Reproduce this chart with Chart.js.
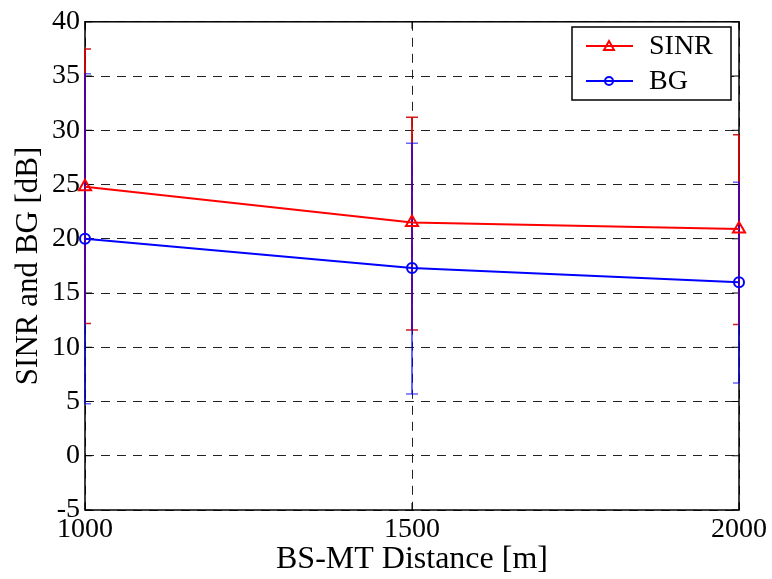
<!DOCTYPE html>
<html>
<head>
<meta charset="utf-8">
<script src="https://cdn.jsdelivr.net/npm/chart.js@4"></script>
<style>
  html, body { margin: 0; padding: 0; background: #fff; }
  #wrap { width: 772px; height: 579px; }
</style>
</head>
<body>
<div id="wrap"><canvas id="c" width="772" height="579"></canvas></div>
<script>
const distances = [1000, 1500, 2000];
const sinrMean = [24.8, 21.5, 20.9];
const sinrUpper = [37.5, 31.2, 29.6];
const sinrLower = [12.2, 11.6, 12.1];
const bgMean = [20.0, 17.3, 16.0];
const bgUpper = [35.2, 28.8, 25.2];
const bgLower = [4.8, 5.7, 6.7];
const xTicks = [1000, 1500, 2000];
const yTicks = [-5, 0, 5, 10, 15, 20, 25, 30, 35, 40];

const FONT = "'Liberation Serif', 'Times New Roman', serif";

// frame + inner ticks, then error bars on top of the frame
const errorBars = {
  id: 'errorBars',
  beforeDatasetsDraw(chart) {
    const { ctx, chartArea: a, scales } = chart;
    ctx.save();
    ctx.strokeStyle = '#000';
    ctx.lineWidth = 1.5;
    ctx.strokeRect(a.left, a.top, a.right - a.left, a.bottom - a.top);
    ctx.lineWidth = 1;
    ctx.beginPath();
    xTicks.forEach((v) => {
      const x = scales.x.getPixelForValue(v);
      ctx.moveTo(x, a.bottom); ctx.lineTo(x, a.bottom - 7);
      ctx.moveTo(x, a.top); ctx.lineTo(x, a.top + 7);
    });
    yTicks.forEach((v) => {
      const y = scales.y.getPixelForValue(v);
      ctx.moveTo(a.left, y); ctx.lineTo(a.left + 7, y);
      ctx.moveTo(a.right, y); ctx.lineTo(a.right - 7, y);
    });
    ctx.stroke();

    const sets = [
      { lo: sinrLower, hi: sinrUpper, color: 'rgba(210,0,0,0.9)' },
      { lo: bgLower, hi: bgUpper, color: 'rgba(0,0,255,0.6)' }
    ];
    sets.forEach((s) => {
      ctx.strokeStyle = s.color;
      distances.forEach((d, i) => {
        const x = scales.x.getPixelForValue(d);
        const y1 = scales.y.getPixelForValue(s.hi[i]);
        const y2 = scales.y.getPixelForValue(s.lo[i]);
        ctx.lineWidth = 2;
        ctx.beginPath();
        ctx.moveTo(x, y1); ctx.lineTo(x, y2);
        ctx.stroke();
        ctx.save();
        ctx.beginPath();
        ctx.rect(a.left, a.top, a.right - a.left, a.bottom - a.top);
        ctx.clip();
        ctx.lineWidth = 1.5;
        ctx.beginPath();
        ctx.moveTo(x - 6, y1); ctx.lineTo(x + 6, y1);
        ctx.moveTo(x - 6, y2); ctx.lineTo(x + 6, y2);
        ctx.stroke();
        ctx.restore();
      });
    });
    ctx.restore();
  }
};

const legendBox = {
  id: 'legendBox',
  afterDraw(chart) {
    const { ctx } = chart;
    const bx = 572, by = 27, bw = 159, bh = 73;
    ctx.save();
    ctx.fillStyle = '#fff';
    ctx.fillRect(bx, by, bw, bh);
    ctx.strokeStyle = '#000';
    ctx.lineWidth = 1.5;
    ctx.strokeRect(bx, by, bw, bh);
    ctx.font = '28px ' + FONT;
    ctx.textBaseline = 'middle';
    chart.data.datasets.forEach((ds, i) => {
      const y = by + 19 + i * 35;
      ctx.strokeStyle = ds.borderColor;
      ctx.lineWidth = 2;
      ctx.beginPath();
      ctx.moveTo(586, y); ctx.lineTo(633, y);
      ctx.stroke();
      ctx.beginPath();
      if (ds.pointStyle === 'triangle') {
        ctx.moveTo(609, y - 5); ctx.lineTo(614, y + 4); ctx.lineTo(604, y + 4); ctx.closePath();
      } else {
        ctx.arc(609, y, 4, 0, Math.PI * 2);
      }
      ctx.stroke();
      ctx.fillStyle = '#000';
      ctx.fillText(ds.label, 649, y + 1);
    });
    ctx.restore();
  }
};

new Chart(document.getElementById('c'), {
  type: 'line',
  data: {
    datasets: [
      {
        label: 'SINR',
        data: distances.map((d, i) => ({ x: d, y: sinrMean[i] })),
        borderColor: '#ff0000',
        backgroundColor: 'transparent',
        borderWidth: 2,
        pointStyle: 'triangle',
        pointRadius: 7,
        pointBorderWidth: 2,
        pointBorderColor: '#ff0000',
        pointBackgroundColor: 'transparent',
        tension: 0,
        clip: false
      },
      {
        label: 'BG',
        data: distances.map((d, i) => ({ x: d, y: bgMean[i] })),
        borderColor: '#0000ff',
        backgroundColor: 'transparent',
        borderWidth: 2,
        pointStyle: 'circle',
        pointRadius: 5,
        pointBorderWidth: 2,
        pointBorderColor: '#0000ff',
        pointBackgroundColor: 'transparent',
        tension: 0,
        clip: false
      }
    ]
  },
  options: {
    responsive: false,
    animation: false,
    layout: { padding: { top: 20, right: 33, left: 0, bottom: 0 } },
    plugins: { legend: { display: false }, tooltip: { enabled: false } },
    scales: {
      x: {
        type: 'linear',
        min: 1000,
        max: 2000,
        afterBuildTicks: (s) => { s.ticks = xTicks.map((v) => ({ value: v })); },
        afterFit: (s) => { s.height = 69; },
        border: { display: false, dash: [9, 7] },
        grid: { color: '#222', lineWidth: 1, drawTicks: false },
        ticks: { color: '#000', font: { family: FONT, size: 28 }, padding: 3, maxRotation: 0, callback: (v) => String(v) },
        title: { display: true, text: 'BS-MT Distance [m]', color: '#000', font: { family: FONT, size: 32 }, padding: { top: -6, bottom: 0 } }
      },
      y: {
        min: -5,
        max: 40,
        afterBuildTicks: (s) => { s.ticks = yTicks.map((v) => ({ value: v })); },
        afterFit: (s) => { s.width = 85; },
        border: { display: false, dash: [9, 7] },
        grid: { color: '#222', lineWidth: 1, drawTicks: false },
        ticks: { color: '#000', font: { family: FONT, size: 28 }, padding: 5 },
        title: { display: true, text: 'SINR and BG [dB]', color: '#000', font: { family: FONT, size: 31 }, padding: { top: 10, bottom: 0 } }
      }
    }
  },
  plugins: [errorBars, legendBox]
});
</script>
</body>
</html>
